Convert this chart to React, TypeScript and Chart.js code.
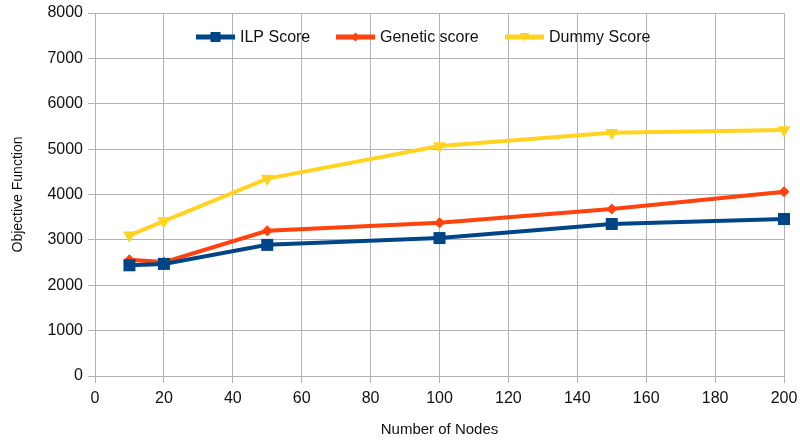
import React, { useEffect, useRef } from 'react';
import { Chart, registerables } from 'chart.js';

Chart.register(...registerables);

const nodes = [10, 20, 50, 100, 150, 200];
const ilpScore = [2440, 2470, 2890, 3040, 3350, 3460];
const geneticScore = [2560, 2510, 3200, 3380, 3680, 4060];
const dummyScore = [3100, 3415, 4350, 5070, 5360, 5420];
const seriesNames = ['ILP Score', 'Genetic score', 'Dummy Score'];
const seriesColors = ['#004586', '#ff420e', '#ffd320'];
const seriesPoints = ['rect', 'rectRot', 'triangle'];

const FONT = '"Liberation Sans", Arial, sans-serif';

function drawMarker(ctx: CanvasRenderingContext2D, style: string, x: number, y: number, r: number) {
  ctx.beginPath();
  if (style === 'rect') {
    ctx.rect(x - r, y - r, 2 * r, 2 * r);
  } else if (style === 'rectRot') {
    ctx.moveTo(x, y - r);
    ctx.lineTo(x + r, y);
    ctx.lineTo(x, y + r);
    ctx.lineTo(x - r, y);
    ctx.closePath();
  } else {
    ctx.moveTo(x - r, y - r * 0.8);
    ctx.lineTo(x + r, y - r * 0.8);
    ctx.lineTo(x, y + r * 0.9);
    ctx.closePath();
  }
  ctx.fill();
}

const legendStarts = [196, 336, 505];

const insideLegend = {
  id: 'insideLegend',
  afterDraw(chart: any) {
    const ctx: CanvasRenderingContext2D = chart.ctx;
    ctx.save();
    ctx.font = `16px ${FONT}`;
    ctx.textBaseline = 'middle';
    const y = 37;
    const markerR = [5, 4.5, 5];
    seriesNames.forEach((name, i) => {
      const x = legendStarts[i];
      ctx.strokeStyle = seriesColors[i];
      ctx.fillStyle = seriesColors[i];
      ctx.lineWidth = 5;
      ctx.beginPath();
      ctx.moveTo(x, y);
      ctx.lineTo(x + 39, y);
      ctx.stroke();
      drawMarker(ctx, seriesPoints[i], x + 19.5, y, markerR[i]);
      ctx.fillStyle = '#111';
      ctx.fillText(name, x + 44, y + 1);
    });
    ctx.restore();
  },
};

export default function App() {
  const ref = useRef<HTMLCanvasElement | null>(null);
  useEffect(() => {
    document.body.style.margin = '0';
    const series = [ilpScore, geneticScore, dummyScore];
    const radii = [8.5, 5.5, 7.5];
    const chart = new Chart(ref.current as HTMLCanvasElement, {
      type: 'line',
      data: {
        datasets: series.map((vals, i) => ({
          label: seriesNames[i],
          data: nodes.map((n, j) => ({ x: n, y: vals[j] })),
          borderColor: seriesColors[i],
          backgroundColor: seriesColors[i],
          borderWidth: 4,
          pointStyle: seriesPoints[i] as any,
          pointRadius: radii[i],
          pointRotation: i === 2 ? 180 : 0,
          pointBorderWidth: 0,
          pointBackgroundColor: seriesColors[i],
          tension: 0,
          fill: false,
          clip: false as any,
        })),
      },
      options: {
        animation: false,
        responsive: false,
        maintainAspectRatio: false,
        layout: { padding: { top: 13, right: 16, left: 0, bottom: 0 } },
        plugins: { legend: { display: false }, tooltip: { enabled: false } },
        scales: {
          x: {
            type: 'linear',
            min: 0,
            max: 200,
            ticks: { stepSize: 20, color: '#111', font: { family: FONT, size: 16 }, padding: 6, callback: (v: any) => String(v) },
            grid: { color: '#b3b3b3', tickColor: '#b3b3b3', tickLength: 7, lineWidth: 1 },
            border: { color: '#b3b3b3' },
            title: { display: true, text: 'Number of Nodes', color: '#111', font: { family: FONT, size: 15 }, padding: { top: 0, bottom: 3 } },
            afterFit: (s: any) => { s.height = 66; s.paddingLeft = 0; s.paddingRight = 0; },
          },
          y: {
            min: 0,
            max: 8000,
            ticks: { stepSize: 1000, color: '#111', font: { family: FONT, size: 16 }, padding: 5, callback: (v: any) => String(v) },
            grid: { color: '#b3b3b3', tickColor: '#b3b3b3', tickLength: 7, lineWidth: 1 },
            border: { color: '#b3b3b3' },
            title: { display: true, text: 'Objective Function', color: '#111', font: { family: FONT, size: 14 }, padding: { top: 10, bottom: 0 } },
            afterFit: (s: any) => { s.width = 95; s.paddingTop = 0; s.paddingBottom = 0; },
          },
        },
      },
      plugins: [insideLegend],
    });
    return () => chart.destroy();
  }, []);
  return (
    <div style={{ position: 'absolute', left: 0, top: 0, width: 800, height: 442, background: '#fff' }}>
      <canvas ref={ref} width={800} height={442} style={{ width: 800, height: 442 }} />
    </div>
  );
}
